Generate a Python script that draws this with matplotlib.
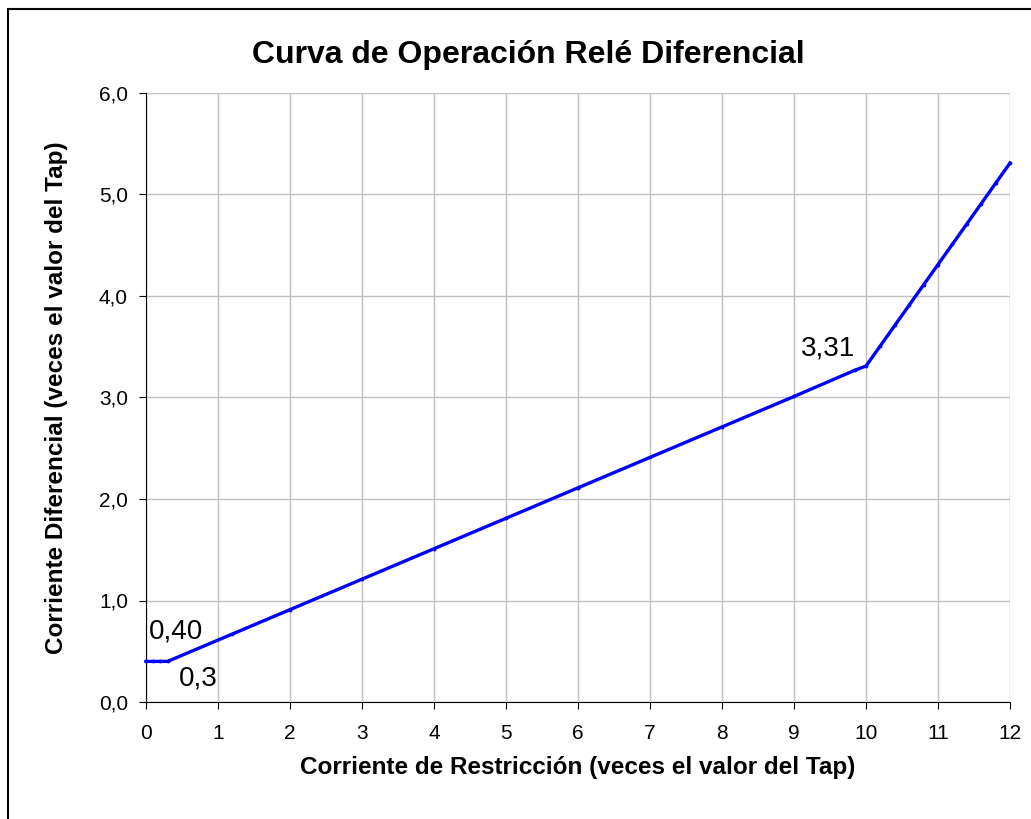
import matplotlib
matplotlib.use("Agg")
import matplotlib.pyplot as plt
from matplotlib.patches import Rectangle
from matplotlib.ticker import FuncFormatter

# Curve points (restriction current, differential current), in tap multiples
restriccion = [0.0, 0.1, 0.2, 0.3, 1.2, 2.0, 3.0, 4.0, 5.0, 6.0, 7.0, 8.0, 9.0,
               9.85, 10.0, 10.2, 10.4, 10.6, 10.8, 11.0, 11.2, 11.4, 11.6, 11.8, 12.0]
diferencial = [0.40, 0.40, 0.40, 0.40, 0.67, 0.91, 1.21, 1.51, 1.81, 2.11, 2.41, 2.71, 3.01,
               3.27, 3.31, 3.51, 3.71, 3.91, 4.11, 4.31, 4.51, 4.71, 4.91, 5.11, 5.31]

xticks = list(range(0, 13))
yticks = [0, 1, 2, 3, 4, 5, 6]

notas = [("0,40", 0.04, 0.69), ("0,3", 0.45, 0.23), ("3,31", 9.1, 3.48)]

plt.rcParams['font.family'] = ['Liberation Sans', 'DejaVu Sans']

fig = plt.figure(figsize=(10.31, 8.19), dpi=100)
ax = fig.add_axes([146 / 1031, 1 - 702 / 819, 864 / 1031, 609 / 819])

ax.plot(restriccion, diferencial, '-', color='#0000FF', lw=2.4, marker='.', ms=3.5, clip_on=False, zorder=5)

ax.set_xlim(0, 12)
ax.set_ylim(0, 6)
ax.set_xticks(xticks)
ax.set_yticks(yticks)
ax.yaxis.set_major_formatter(FuncFormatter(lambda v, p: ("%.1f" % v).replace('.', ',')))
ax.grid(True, color='#c0c0c0', lw=1)
ax.set_axisbelow(True)
ax.spines['top'].set_visible(False)
ax.spines['right'].set_visible(False)
ax.tick_params(labelsize=15, length=5, direction='out')
ax.tick_params(axis='x', pad=11)
ax.tick_params(axis='y', pad=8)

for texto, x, y in notas:
    ax.text(x, y, texto, fontsize=20, ha='left', va='center')

ax.set_xlabel("Corriente de Restricción (veces el valor del Tap)", fontsize=17.5, fontweight='bold', labelpad=9)
ax.set_ylabel("Corriente Diferencial (veces el valor del Tap)", fontsize=17.5, fontweight='bold', labelpad=22)
fig.text(528 / 1031, 1 - 55 / 819, "Curva de Operación Relé Diferencial", fontsize=23,
         fontweight='bold', ha='center', va='center')

# outer frame of the chart
fig.patches.append(Rectangle((8 / 1031, -0.1), 1.2, 1 - 9 / 819 + 0.1, transform=fig.transFigure,
                             fill=False, edgecolor='black', lw=1.5))

fig.savefig("out.png", dpi=100)
